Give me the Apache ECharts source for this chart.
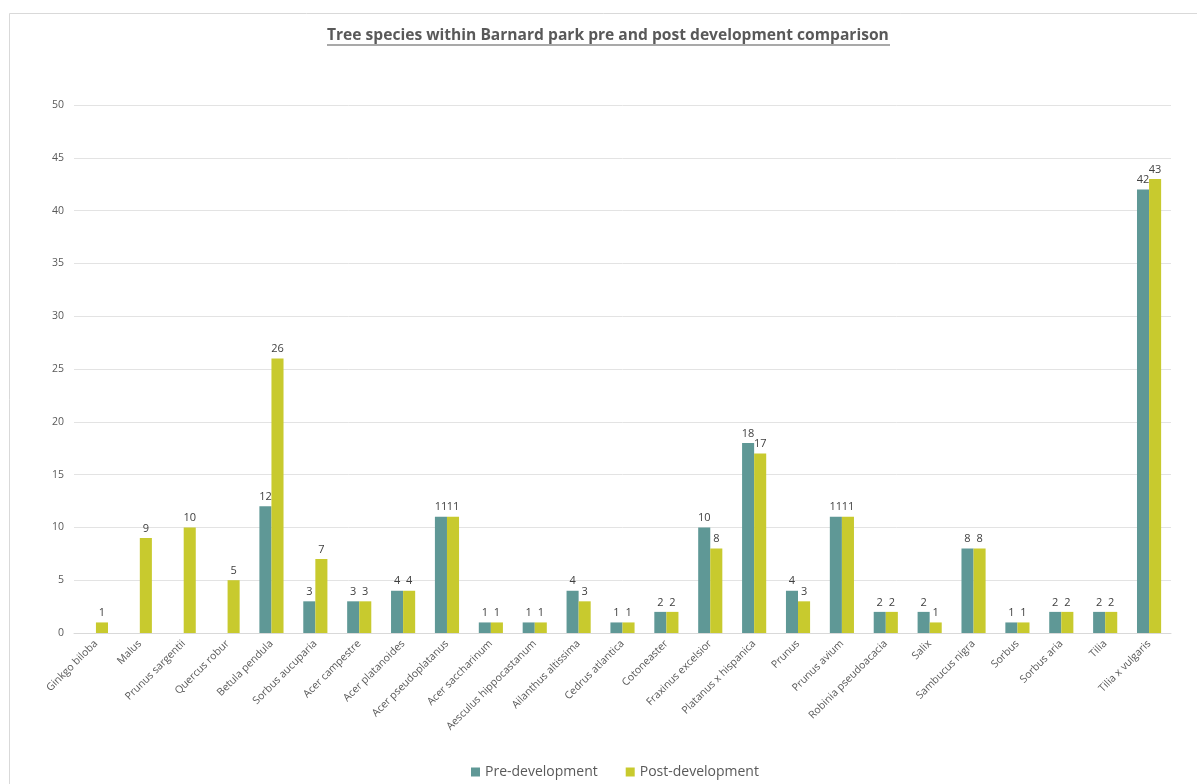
<!DOCTYPE html>
<html>
<head>
<meta charset="utf-8">
<script src="https://cdn.jsdelivr.net/npm/echarts@6/dist/echarts.min.js"></script>
<style>html,body{margin:0;padding:0;background:#fff;}#c{width:1197px;height:784px;}</style>
</head>
<body>
<div id="c"></div>
<script>
const categories = ["Ginkgo biloba","Malus","Prunus sargentii","Quercus robur","Betula pendula","Sorbus aucuparia","Acer campestre","Acer platanoides","Acer pseudoplatanus","Acer saccharinum","Aesculus hippocastanum","Ailanthus altissima","Cedrus atlantica","Cotoneaster","Fraxinus excelsior","Platanus x hispanica","Prunus","Prunus avium","Robinia pseudoacacia","Salix","Sambucus nigra","Sorbus","Sorbus aria","Tilia","Tilia x vulgaris"];
const preDevelopment = [null,null,null,null,12,3,3,4,11,1,1,4,1,2,10,18,4,11,2,2,8,1,2,2,42];
const postDevelopment = [1,9,10,5,26,7,3,4,11,1,1,3,1,2,8,17,3,11,2,1,8,1,2,2,43];
const yTicks = [0,5,10,15,20,25,30,35,40,45,50];

const chart = echarts.init(document.getElementById('c'));
const font = 'Open Sans, Liberation Sans, sans-serif';
const labelStyle = {show:true, position:'top', color:'#404040', fontSize:11, fontFamily:font, distance:4};
chart.setOption({
  animation:false,
  backgroundColor:'#fff',
  title:{text:'Tree species within Barnard park pre and post development comparison', left:322, top:23,
    textStyle:{fontSize:15.6, fontWeight:'bold', color:'#595959', fontFamily:font}},
  graphic:[
    {type:'rect', shape:{x:9.5,y:13.5,width:1300,height:900}, style:{fill:'none', stroke:'#d9d9d9', lineWidth:1}, silent:true},
    {type:'line', shape:{x1:327,y1:45,x2:890,y2:45}, style:{stroke:'#8c8c8c', lineWidth:1.5}, silent:true}
  ],
  legend:{bottom:5, left:471, padding:0, itemWidth:9, itemHeight:9, itemGap:28, icon:'rect',
    textStyle:{fontSize:14, color:'#595959', fontFamily:font},
    data:['Pre-development','Post-development']},
  grid:{left:74, right:26, top:105, bottom:151, containLabel:false},
  xAxis:{type:'category', data:categories,
    axisLine:{lineStyle:{color:'#d9d9d9'}}, axisTick:{show:false},
    axisLabel:{rotate:45, interval:0, color:'#595959', fontSize:10.5, fontFamily:font, margin:9}},
  yAxis:{type:'value', min:0, max:50, interval:5,
    axisLine:{show:false}, axisTick:{show:false},
    splitLine:{lineStyle:{color:'#e3e3e3'}},
    axisLabel:{color:'#595959', fontSize:10.5, fontFamily:font, margin:10,
      formatter:v=>yTicks.includes(v)?String(v):''}},
  series:[
    {name:'Pre-development', type:'bar', data:preDevelopment, barGap:'0%', barCategoryGap:'45%',
      itemStyle:{color:'#5f9896'}, label:labelStyle},
    {name:'Post-development', type:'bar', data:postDevelopment, barGap:'0%', barCategoryGap:'45%',
      itemStyle:{color:'#c8ca2e'}, label:labelStyle}
  ]
});
</script>
</body>
</html>
